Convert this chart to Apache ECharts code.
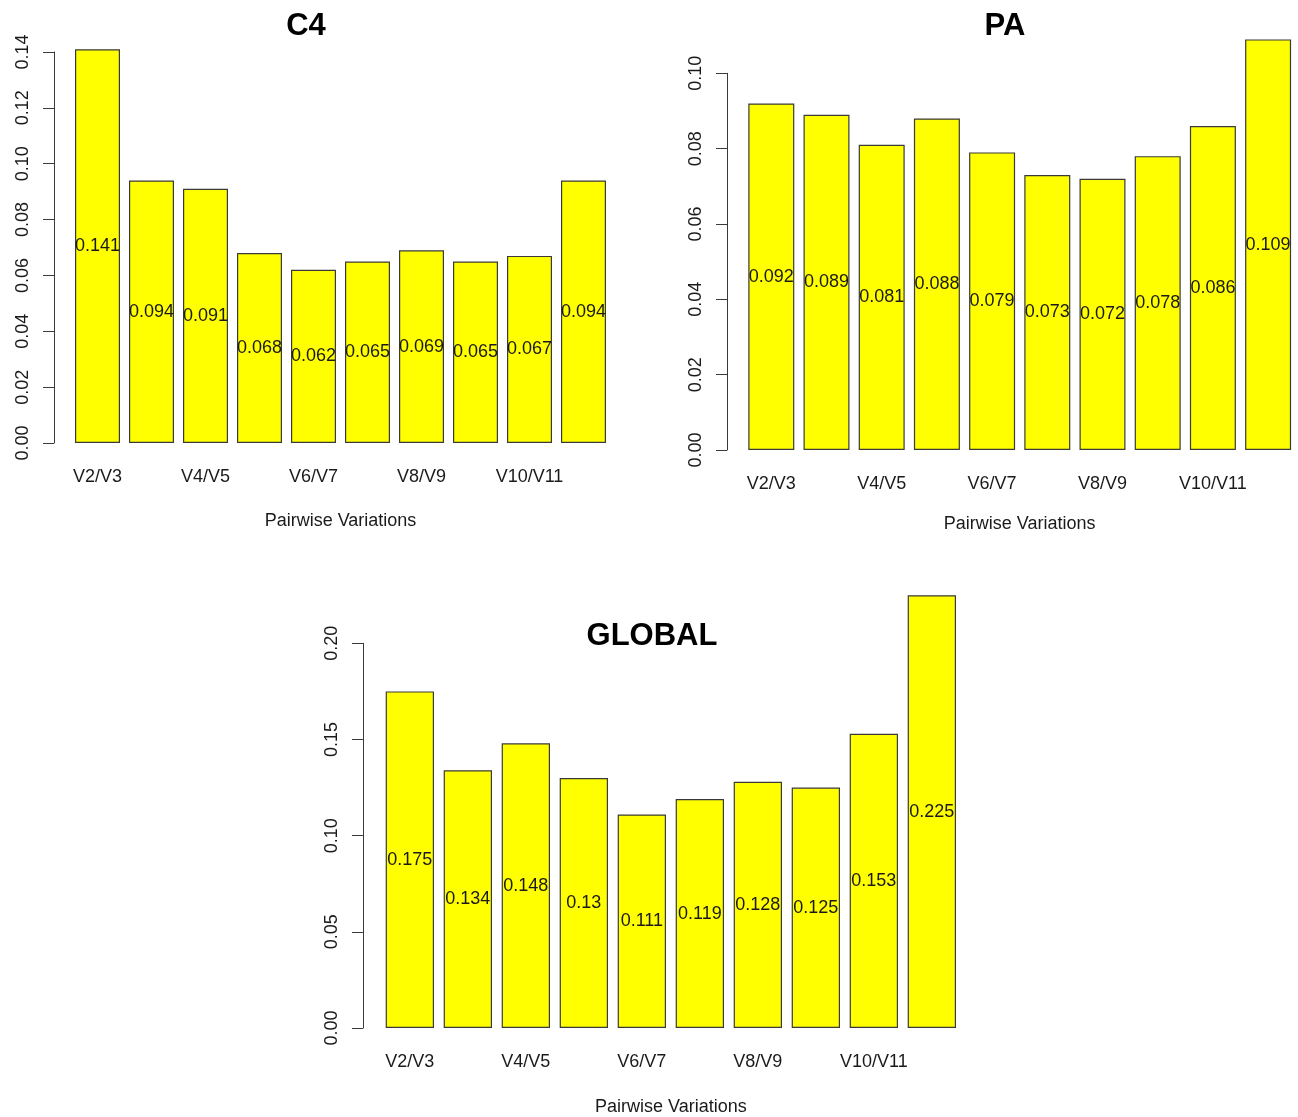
<!DOCTYPE html>
<html>
<head>
<meta charset="utf-8">
<title>Pairwise Variations</title>
<script src="https://cdn.jsdelivr.net/npm/echarts@6/dist/echarts.min.js"></script>
<style>
  html, body { margin: 0; padding: 0; background: #ffffff; }
  #chart { width: 1298px; height: 1117px; }
</style>
</head>
<body>
<div id="chart"></div>
<script>
// Pairwise variation labels (every other one is shown on the axis)
const pairs = ['V2/V3', 'V3/V4', 'V4/V5', 'V5/V6', 'V6/V7', 'V7/V8', 'V8/V9', 'V9/V10', 'V10/V11', 'V11/V12'];

// Pairwise variation values per group
const c4Values = [0.141, 0.094, 0.091, 0.068, 0.062, 0.065, 0.069, 0.065, 0.067, 0.094];
const paValues = [0.092, 0.089, 0.081, 0.088, 0.079, 0.073, 0.072, 0.078, 0.086, 0.109];
const globalValues = [0.175, 0.134, 0.148, 0.13, 0.111, 0.119, 0.128, 0.125, 0.153, 0.225];

// Y-axis tick settings per panel
const c4Ticks = { max: 0.14, step: 0.02 };
const paTicks = { max: 0.10, step: 0.02 };
const globalTicks = { max: 0.20, step: 0.05 };

const panelTitles = ['C4', 'PA', 'GLOBAL'];
const axisTitle = 'Pairwise Variations';

const FONT = '"Liberation Sans", Arial, Helvetica, sans-serif';
const TEXT = '#1a1a1a';
const LINE = '#3a3a3a';
const SIZE = 18;

const chart = echarts.init(document.getElementById('chart'), null, { renderer: 'canvas' });

// Panel geometry: plot area, y-axis offset, axis-title gap and title anchor
const panels = [
  { grid: { left: 70.5, top: 52, width: 540, height: 391 }, offset: 16.5, ticks: c4Ticks, values: c4Values, nameGap: 69, title: { x: 301, y: 6 } },
  { grid: { left: 743.7, top: 73.3, width: 552, height: 376.7 }, offset: 16.7, ticks: paTicks, values: paValues, nameGap: 65, title: { x: 1000, y: 6 } },
  { grid: { left: 380.85, top: 643.3, width: 580, height: 386 }, offset: 17.9, ticks: globalTicks, values: globalValues, nameGap: 70, title: { x: 647, y: 616 } }
];

const option = {
  backgroundColor: '#ffffff',
  animation: false,
  title: panels.map((p, i) => ({
    text: panelTitles[i],
    left: p.title.x,
    top: p.title.y,
    textAlign: 'center',
    textStyle: { fontFamily: FONT, fontSize: 31, fontWeight: 'bold', color: '#000' }
  })),
  grid: panels.map(p => Object.assign({ containLabel: false }, p.grid)),
  xAxis: panels.map((p, i) => ({
    type: 'category',
    gridIndex: i,
    data: pairs,
    boundaryGap: true,
    axisLine: { show: false },
    axisTick: { show: false },
    axisLabel: { interval: 1, margin: 25, fontFamily: FONT, fontSize: SIZE, color: TEXT },
    name: axisTitle,
    nameLocation: 'middle',
    nameGap: p.nameGap,
    nameTextStyle: { fontFamily: FONT, fontSize: SIZE, color: TEXT }
  })),
  yAxis: panels.map((p, i) => ({
    type: 'value',
    gridIndex: i,
    min: 0,
    max: p.ticks.max,
    interval: p.ticks.step,
    offset: p.offset,
    splitLine: { show: false },
    axisLine: { show: true, lineStyle: { color: LINE, width: 1 } },
    axisTick: { show: true, length: 11, lineStyle: { color: LINE, width: 1 } },
    axisLabel: {
      rotate: 90,
      margin: 22,
      fontFamily: FONT,
      fontSize: SIZE,
      color: TEXT,
      formatter: v => v.toFixed(2)
    }
  })),
  series: panels.map((p, i) => ({
    type: 'bar',
    xAxisIndex: i,
    yAxisIndex: i,
    data: p.values,
    clip: false,
    barCategoryGap: '16.7%',
    itemStyle: { color: '#ffff00', borderColor: LINE, borderWidth: 1.2 },
    label: {
      show: true,
      position: 'inside',
      fontFamily: FONT,
      fontSize: SIZE,
      color: TEXT
    }
  }))
};

chart.setOption(option);
</script>
</body>
</html>
